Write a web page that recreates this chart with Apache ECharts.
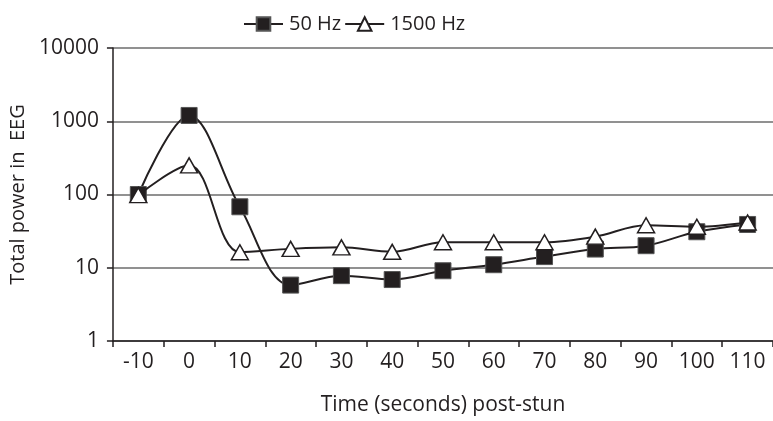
<!DOCTYPE html>
<html>
<head>
<meta charset="utf-8">
<script src="https://cdn.jsdelivr.net/npm/echarts@6/dist/echarts.min.js"></script>
<style>
  html, body { margin: 0; padding: 0; background: #fff; }
  #chart { width: 773px; height: 421px; }
</style>
</head>
<body>
<div id="chart"></div>
<script>
// Time points (seconds relative to stun)
const categories = ['-10', '0', '10', '20', '30', '40', '50', '60', '70', '80', '90', '100', '110'];
// Total EEG power per stimulation frequency
const hz50 = [100, 1200, 68, 5.8, 7.8, 6.9, 9.1, 11, 14.2, 18, 20, 31, 39];
const hz1500 = [98, 250, 16.3, 18.1, 19, 16.5, 22.3, 22.3, 22.3, 26.6, 38, 36.3, 41.5];
const yTicks = [1, 10, 100, 1000, 10000];

const FONT = 'Open Sans';
const INK = '#231f20';

const chart = echarts.init(document.getElementById('chart'), null, { renderer: 'canvas' });
chart.setOption({
  animation: false,
  textStyle: { fontFamily: FONT, color: INK },
  legend: {
    top: 9,
    left: 238,
    itemWidth: 39,
    itemHeight: 17,
    itemGap: 3,
    textStyle: { fontFamily: FONT, fontSize: 20, color: INK, padding: [0, 0, 0, 1] },
    data: ['50 Hz', '1500 Hz']
  },
  grid: { left: 112, top: 48, width: 667, height: 295, containLabel: false },
  xAxis: {
    type: 'category',
    data: categories,
    boundaryGap: true,
    name: 'Time (seconds) post-stun',
    nameLocation: 'middle',
    nameGap: 54,
    nameTextStyle: { fontFamily: FONT, fontSize: 21, color: INK },
    axisLine: { lineStyle: { color: INK, width: 1.5 } },
    axisTick: { show: true, length: 6, alignWithLabel: false, lineStyle: { color: INK, width: 1.5 } },
    axisLabel: { fontFamily: FONT, fontSize: 21, color: INK, margin: 11 }
  },
  yAxis: {
    type: 'log',
    logBase: 10,
    min: yTicks[0],
    max: yTicks[yTicks.length - 1],
    name: 'Total power in  EEG',
    nameLocation: 'middle',
    nameRotate: 90,
    nameGap: 82,
    nameTextStyle: { fontFamily: FONT, fontSize: 20, color: INK },
    axisLine: { show: true, lineStyle: { color: INK, width: 1.5 } },
    axisTick: { show: true, length: 6, lineStyle: { color: INK, width: 1.5 } },
    axisLabel: {
      fontFamily: FONT, fontSize: 21, color: INK, margin: 14,
      formatter: (v) => String(Math.round(v))
    },
    splitLine: { show: true, lineStyle: { color: '#6d6d6d', width: 1.5 } }
  },
  series: [
    {
      name: '50 Hz',
      type: 'line',
      data: hz50,
      smooth: 0.35,
      symbol: 'rect',
      symbolSize: 16,
      lineStyle: { color: INK, width: 2 },
      itemStyle: { color: INK, borderColor: '#555', borderWidth: 1 },
      z: 3
    },
    {
      name: '1500 Hz',
      type: 'line',
      data: hz1500,
      smooth: 0.35,
      symbol: 'triangle',
      symbolSize: [17, 15],
      lineStyle: { color: INK, width: 2 },
      itemStyle: { color: '#fff', borderColor: INK, borderWidth: 1.5 },
      z: 4
    }
  ]
});
</script>
</body>
</html>
